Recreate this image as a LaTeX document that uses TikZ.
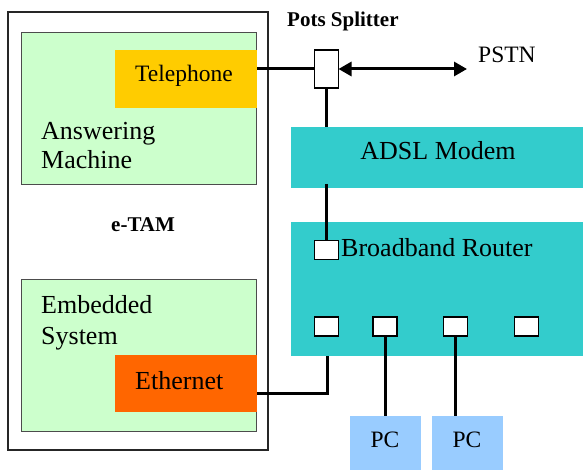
\documentclass[tikz,border=0pt]{standalone}
\usepackage{fontspec}
\setmainfont{Liberation Serif}
\usetikzlibrary{arrows.meta}
\definecolor{amgreen}{HTML}{CCFFCC}
\definecolor{telyellow}{HTML}{FFCC00}
\definecolor{ethorange}{HTML}{FF6600}
\definecolor{netteal}{HTML}{33CCCC}
\definecolor{pcblue}{HTML}{99CCFF}
\tikzset{
  blk/.style={rectangle, inner sep=0pt, outer sep=0pt},
  greenbox/.style={blk, fill=amgreen, draw=black!70, line width=0.9pt},
  port/.style={blk, fill=white, draw=black, line width=1.8pt, minimum width=24pt, minimum height=19pt},
  wire/.style={line width=3pt, black},
  txt/.style={inner sep=0pt, anchor=base west, font=\fontsize{26}{29}\selectfont},
  smalltxt/.style={inner sep=0pt, anchor=base west, font=\fontsize{23.5}{27}\selectfont},
  boldtxt/.style={inner sep=0pt, anchor=base west, font=\fontsize{21}{24}\selectfont\bfseries},
}
\begin{document}
\begin{tikzpicture}[x=1pt, y=-1pt]
\useasboundingbox (0,0) rectangle (583,470);

% e-TAM enclosure
\node[blk, draw=black!85, line width=1.6pt, minimum width=260pt, minimum height=438pt] (etam) at (138,231) {};
\node[boldtxt] (etamlbl) at (111,232) {e-TAM};

% answering machine
\node[greenbox, minimum width=235pt, minimum height=152pt] (am) at (138.5,108) {};
\node[blk, fill=telyellow, minimum width=142pt, minimum height=58pt] (tel) at (186,79) {};
\node[smalltxt] (tellbl) at (135,82) {Telephone};
\node[txt] (amlbl1) at (41,140) {Answering};
\node[txt] (amlbl2) at (41,169) {Machine};

% embedded system
\node[greenbox, minimum width=235pt, minimum height=152pt] (emb) at (138.5,355) {};
\node[blk, fill=ethorange, minimum width=142pt, minimum height=57pt] (eth) at (186,383.5) {};
\node[txt] (ethlbl) at (135,389) {Ethernet};
\node[txt] (emblbl1) at (41,313) {Embedded};
\node[txt] (emblbl2) at (41,344) {System};

% network side
\node[blk, fill=netteal, minimum width=292pt, minimum height=61pt] (adsl) at (437,157.5) {};
\node[txt, anchor=base] (adsllbl) at (438,160) {ADSL Modem};
\node[blk, fill=netteal, minimum width=292pt, minimum height=134pt] (router) at (437,289) {};
\node[txt] (routerlbl) at (341,256) {Broadband Router};

\node[blk, fill=pcblue, minimum width=71pt, minimum height=54pt] (pc1) at (385.5,443) {};
\node[smalltxt, anchor=base] (pc1lbl) at (385,447) {PC};
\node[blk, fill=pcblue, minimum width=71pt, minimum height=54pt] (pc2) at (467.5,443) {};
\node[smalltxt, anchor=base] (pc2lbl) at (467,447) {PC};

% splitter
\node[boldtxt] (splitlbl) at (287,27) {Pots Splitter};
\node[smalltxt] (pstnlbl) at (478,63) {PSTN};
\coordinate (pstnend) at (467,69);
\coordinate (ethcorner) at (327,393);

% wiring
\draw[wire] (tel.east |- 0,69) -- (314,69);
\draw[wire] (326.5,88) -- (326.5,127);
\draw[wire] (326.5,184) -- (326.5,240);
\draw[wire] (eth.east |- ethcorner) -- (ethcorner) -- (ethcorner |- router.south);
\draw[wire] (385,336) -- (385,416);
\draw[wire] (455.5,336) -- (455.5,416);

% splitter box and PSTN link
\node[blk, fill=white, draw=black, line width=1.8pt, minimum width=24pt, minimum height=38pt] (split) at (326.5,69) {};
\draw[wire, {Triangle[length=13pt,width=14pt]}-{Triangle[length=13pt,width=14pt]}] (split.east) -- (pstnend);

% router ports
\node[port] (p0) at (326.5,250) {};
\node[port] (p1) at (326.5,326.5) {};
\node[port] (p2) at (385,326.5) {};
\node[port] (p3) at (455.5,326.5) {};
\node[port] (p4) at (526.5,326.5) {};
\end{tikzpicture}
\end{document}
